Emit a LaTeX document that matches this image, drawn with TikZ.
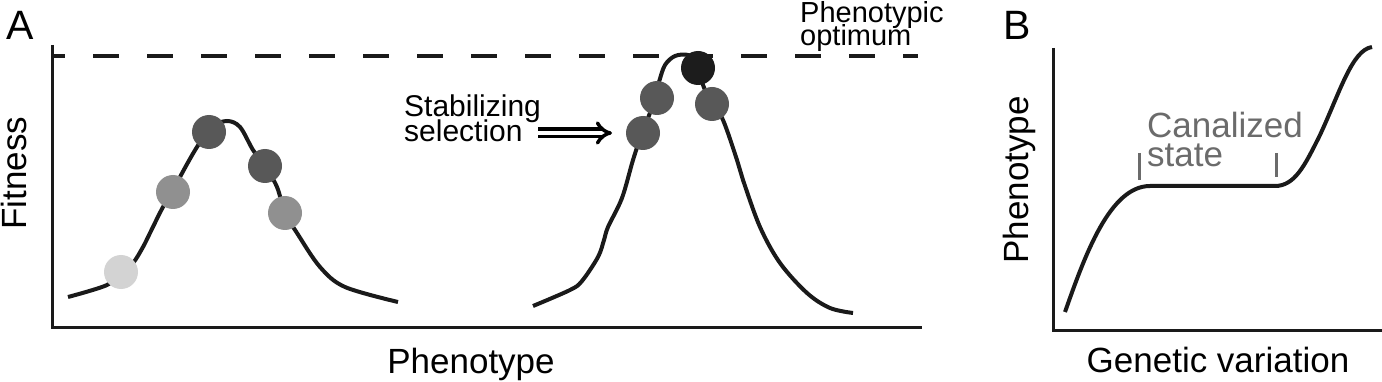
\documentclass[tikz,border=0pt]{standalone}
\usepackage{fontspec}
\setmainfont{Liberation Sans}
\usetikzlibrary{arrows.meta}
\definecolor{curvecol}{HTML}{1A1A1A}
\definecolor{dotlight}{HTML}{D3D3D3}
\definecolor{dotmid}{HTML}{909090}
\definecolor{dotdark}{HTML}{585858}
\definecolor{dotblack}{HTML}{1C1C1C}
\definecolor{canalgray}{HTML}{6B6B6B}
\setlength{\lineskiplimit}{-100pt}
\begin{document}
\begin{tikzpicture}[x=1pt, y=-1pt,
    axis/.style={line width=3pt, curvecol},
    curve/.style={line width=4pt, curvecol},
    optline/.style={line width=4pt, curvecol, dash pattern=on 26pt off 28pt, dash phase=14pt},
    lbl/.style={inner sep=0pt, font=\fontsize{35}{29}\selectfont},
    small/.style={inner sep=0pt, align=left, font=\fontsize{30}{25}\selectfont},
    panel/.style={inner sep=0pt, font=\fontsize{41}{41}\selectfont}]
    \useasboundingbox (0,0) rectangle (1382,382);

    % 面板 A
    \node[panel, anchor=base west] (labA) at (6,40) {A};
    \draw[optline] (53,56) -- (918,56);
    \draw[axis] (52,45) -- (52,327) -- (922,327);
    \node[lbl, rotate=90, anchor=base] (fit) at (27,173) {Fitness};
    \node[lbl, anchor=base] (phenA) at (471,373) {Phenotype};
    \node[small, font=\fontsize{29}{23}\selectfont, anchor=base west] (opt) at (800,46) {Phenotypic\\optimum};

    % 选择前
    \draw[curve] plot[smooth, tension=0.55] coordinates {(68,297) (107,285) (121,272) (133,263)
        (143,247) (150,233) (163,207) (173,192) (180,177) (197,147) (212,127) (227,121)
        (240,127) (253,150) (265,166) (277,187) (285,213) (297,233) (320,267) (345,287) (398,302)};
    \fill[dotlight] (121,272) circle (17pt);
    \fill[dotmid] (173,192) circle (17pt);
    \fill[dotdark] (209,132) circle (17pt);
    \fill[dotdark] (265,166) circle (17pt);
    \fill[dotmid] (285,213) circle (17pt);

    % 稳定选择
    \node[small, anchor=base west] (stab) at (404,142) {Stabilizing\\selection};
    \coordinate (arrS) at (538,133);
    \coordinate (arrE) at (612,133);
    \draw[line width=3.5pt, double distance=4pt, -{Implies[length=14pt, width=30pt]}] (arrS) -- (arrE);

    % 选择后
    \draw[curve] plot[smooth, tension=0.55] coordinates {(533,306) (570,290) (582,281) (598,257)
        (604,240) (608,227) (622,198) (633,160) (642,133) (651,110) (659,82) (665,65) (675,56)
        (688,55) (697,62) (703,85) (712,104) (723,120) (737,160) (743,180) (760,227) (780,263)
        (807,293) (830,308) (853,313)};
    \fill[dotdark] (643,133) circle (17pt);
    \fill[dotdark] (657,98) circle (17pt);
    \fill[dotblack] (698,68) circle (17pt);
    \fill[dotdark] (712,104) circle (17pt);

    % 面板 B
    \node[panel, anchor=base west] (labB) at (1003,40) {B};
    \draw[axis] (1053,48) -- (1053,330) -- (1382,330);
    \node[lbl, rotate=90, anchor=base] (phenB) at (1028,180) {Phenotype};
    \node[lbl, anchor=base] (gen) at (1218,372) {Genetic variation};
    \draw[curve] (1065,312) .. controls (1085,255) and (1110,186) .. (1150,186) -- (1275,186)
        .. controls (1295,186) and (1305,165) .. (1320,135)
        .. controls (1340,92) and (1352,50) .. (1372,47);

    % 渠化状态
    \draw[line width=3pt, canalgray] (1139,153) -- (1139,180);
    \draw[line width=3pt, canalgray] (1276,153) -- (1276,177);
    \node[lbl, align=left, anchor=base west, canalgray] (canal) at (1147,167) {Canalized\\state};
\end{tikzpicture}
\end{document}
